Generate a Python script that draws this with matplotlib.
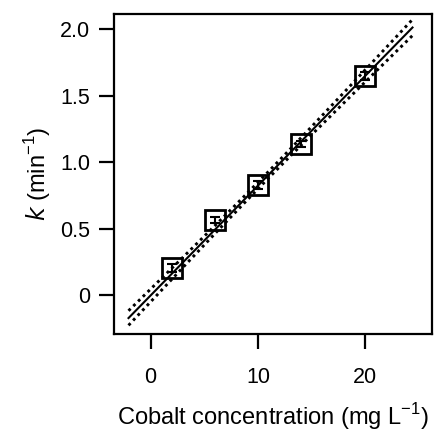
import numpy as np
import matplotlib
matplotlib.use('Agg')
import matplotlib.pyplot as plt

# Measured rate constants vs cobalt concentration
cobalt = [2.0, 6.0, 10.0, 14.0, 20.0]
k_obs = [0.20, 0.565, 0.825, 1.135, 1.65]
k_err = [0.03, 0.02, 0.03, 0.025, 0.03]

# fitted line and confidence band width
fit_slope = 0.0826
fit_intercept = -0.004
band_scale = 0.055
fit_range = [-2.05, 24.4]

x = np.array(cobalt)
xfit = np.linspace(fit_range[0], fit_range[1], 200)
yfit = fit_slope * xfit + fit_intercept
sxx = np.sum((x - x.mean())**2)
band = band_scale * np.sqrt(1.0 / len(x) + (xfit - x.mean())**2 / sxx)

plt.rcParams['font.family'] = ['Liberation Sans', 'DejaVu Sans']

fig = plt.figure(figsize=(4.34, 4.32), dpi=100)
ax = fig.add_axes([0.2627, 0.2269, 0.7323, 0.7407])

ax.plot(xfit, yfit, 'k-', lw=1.5)
ax.plot(xfit, yfit + band, color='k', lw=2.1, linestyle=(0, (1.0, 1.3)))
ax.plot(xfit, yfit - band, color='k', lw=2.1, linestyle=(0, (1.0, 1.3)))

ax.errorbar(cobalt, k_obs, yerr=k_err, fmt='none', ecolor='k', elinewidth=1.5,
            capsize=3.5, capthick=1.5)
ax.plot(cobalt, k_obs, 's', ms=14, mfc='none', mec='k', mew=2.0)

ax.set_xlim(-3.4, 26.2)
ax.set_ylim(-0.293, 2.113)
ax.set_xticks([0, 10, 20])
ax.set_xticklabels(['0', '10', '20'])
ax.set_yticks([0, 0.5, 1.0, 1.5, 2.0])
ax.set_yticklabels(['0', '0.5', '1.0', '1.5', '2.0'])

for sp in ax.spines.values():
    sp.set_linewidth(1.6)
ax.tick_params(direction='out', length=11, width=1.6, labelsize=15.5)
ax.tick_params(axis='x', pad=13)
ax.tick_params(axis='y', pad=6)

ax.set_xlabel('Cobalt concentration (mg L$^{\\mathregular{-1}}$)', fontsize=17, labelpad=9)
ax.set_ylabel('$\\it{k}$ (min$^{\\mathregular{-1}}$)', fontsize=17, labelpad=5)

fig.savefig('out.png', dpi=100)
